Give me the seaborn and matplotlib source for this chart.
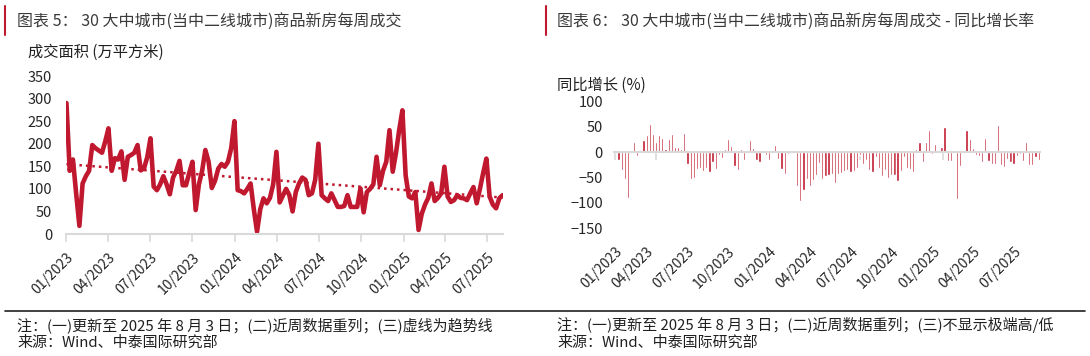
import numpy as np
import pandas as pd
import matplotlib
matplotlib.use('Agg')
import matplotlib.pyplot as plt
import matplotlib.dates as mdates
from matplotlib.lines import Line2D
import seaborn as sns

# weekly data, 2023-01-01 .. 2025-08-03
weeks = pd.date_range('2023-01-01', '2025-08-03', freq='7D')

# 30 大中城市 weekly transaction area (万平方米)
area = [290, 140, 165, 90, 18, 112, 128, 140, 197, 190,
        185, 180, 205, 234, 140, 168, 165, 183, 120, 171,
        175, 180, 197, 141, 145, 170, 212, 105, 97, 110,
        128, 110, 88, 125, 140, 162, 108, 108, 135, 160,
        53, 110, 140, 186, 160, 102, 118, 145, 155, 149,
        160, 190, 250, 97, 95, 90, 100, 112, 55, 5,
        55, 79, 68, 80, 110, 182, 70, 85, 100, 86,
        50, 93, 112, 125, 120, 86, 90, 120, 200, 86,
        79, 73, 90, 75, 60, 60, 62, 86, 60, 60,
        60, 101, 48, 93, 100, 110, 171, 108, 140, 160,
        230, 138, 179, 230, 274, 130, 83, 79, 93, 9,
        45, 65, 80, 112, 73, 80, 90, 149, 83, 71,
        75, 86, 80, 79, 75, 90, 104, 68, 100, 135,
        167, 83, 65, 57, 79, 86]

# year-on-year growth (%)
yoy = [5, -15, -35, -53, -90, 0, 21, -7, 5, 24,
       34, 55, 36, 21, 35, 28, 6, 26, 37, 10,
       10, 6, 39, -23, -53, -51, -33, -31, -38, -31,
       -39, -20, -33, -5, -12, 6, 26, 12, -27, -36,
       6, -16, 3, 24, 8, -15, -20, 0, -5, -16,
       3, 14, -14, -33, -43, -4, 0, 0, -66, -97,
       -75, -53, -66, -54, -45, -22, -53, -47, -45, -43,
       -60, -43, -41, -37, -35, -39, -38, -31, -5, -23,
       -16, -35, -39, -10, -31, -48, -35, -51, -45, -45,
       -56, -38, -10, -31, -33, -40, 6, 21, -20, 20,
       44, -3, 16, 3, 10, 49, -18, -18, -2, -92,
       -28, 0, 43, 26, 8, -5, -7, -20, 29, -18,
       -24, -24, 54, -25, -30, -13, -20, -23, -7, -4,
       -17, 20, -25, -25, -9, -15]

RED = '#C0192F'
GREY = '#D9D9D9'
W, H = 1090, 356

sns.set_theme(style='white')
plt.rcParams['font.family'] = ['Noto Sans CJK SC', 'DejaVu Sans']

fig = plt.figure(figsize=(W / 100, H / 100), dpi=100)
fig.patch.set_facecolor('white')


def px(x0, y0, x1, y1):
    return [x0 / W, 1 - y1 / H, (x1 - x0) / W, (y1 - y0) / H]


quarter = mdates.MonthLocator(bymonth=[1, 4, 7, 10])
fmt = mdates.DateFormatter('%m/%Y')

# ---- left: weekly area with trend line
ax1 = fig.add_axes(px(66, 76, 503, 234))
df1 = pd.DataFrame({'week': weeks, 'area': area})
sns.lineplot(data=df1, x='week', y='area', color=RED, linewidth=3.3, ax=ax1)

t = np.arange(len(area))
k, b = np.polyfit(t, area, 1)
df1['trend'] = k * t + b
sns.lineplot(data=df1, x='week', y='trend', color=RED, linewidth=1.8, ax=ax1)
ax1.lines[-1].set_dashes([1, 1.6])

ax1.set_xlim(weeks[0] - pd.Timedelta(days=1), weeks[-1] + pd.Timedelta(days=1))
ax1.set_ylim(0, 350)
ax1.set_yticks(range(0, 351, 50))
ax1.xaxis.set_major_locator(quarter)
ax1.xaxis.set_major_formatter(fmt)
for s in ['top', 'right', 'left']:
    ax1.spines[s].set_visible(False)
ax1.spines['bottom'].set_color(GREY)
ax1.spines['bottom'].set_linewidth(1.5)
ax1.tick_params(axis='x', bottom=True, length=6, width=1.2, color=GREY, pad=6, labelsize=10)
ax1.tick_params(axis='y', length=0, pad=10, labelsize=10.5)
plt.setp(ax1.get_xticklabels(), rotation=45, ha='right', rotation_mode='anchor')
ax1.set_xlabel('')
ax1.set_ylabel('')

# ---- right: YoY bars
ax2 = fig.add_axes(px(614, 101.7, 1040, 228))
xnum = mdates.date2num(weeks)
sns.barplot(x=xnum, y=yoy, native_scale=True, color=RED, saturation=1,
            width=0.7, errorbar=None, ax=ax2)
ax2.set_xlim(xnum[0] - 3, xnum[-1] + 3)
ax2.set_ylim(-150, 100)
ax2.set_yticks(range(-150, 101, 50))
for s in ['top', 'right', 'left']:
    ax2.spines[s].set_visible(False)
ax2.spines['bottom'].set_position(('data', 0))
ax2.spines['bottom'].set_color(GREY)
ax2.spines['bottom'].set_linewidth(1.5)
ax2.xaxis.set_major_locator(mdates.MonthLocator(bymonth=[1, 4, 7, 10]))
ax2.tick_params(axis='x', bottom=True, length=6, width=1.2, color=GREY, labelbottom=False)
ax2.tick_params(axis='y', length=0, pad=8, labelsize=10.5)
ax2.set_xlabel('')
ax2.set_ylabel('')

sec = ax2.secondary_xaxis('bottom')
sec.xaxis.set_major_locator(mdates.MonthLocator(bymonth=[1, 4, 7, 10]))
sec.xaxis.set_major_formatter(mdates.DateFormatter('%m/%Y'))
for s in sec.spines.values():
    s.set_visible(False)
sec.tick_params(axis='x', length=0, pad=12, labelsize=10)
plt.setp(sec.get_xticklabels(), rotation=45, ha='right', rotation_mode='anchor')

# ---- headings, axis titles, notes
TXT = '#3A3A3A'
INK = '#202020'
fig.add_artist(Line2D([5 / W, 5 / W], [1 - 6 / H, 1 - 35 / H], color=RED, lw=1.5))
fig.add_artist(Line2D([546 / W, 546 / W], [1 - 6 / H, 1 - 35 / H], color=RED, lw=1.5))
fig.text(17 / W, 1 - 21 / H, '图表 5： 30 大中城市(当中二线城市)商品新房每周成交',
         fontsize=11.5, color=TXT, va='center')
fig.text(557 / W, 1 - 21 / H, '图表 6： 30 大中城市(当中二线城市)商品新房每周成交 - 同比增长率',
         fontsize=11.5, color=TXT, va='center')
fig.text(28 / W, 1 - 52 / H, '成交面积 (万平方米)', fontsize=11, color=INK, va='center')
fig.text(557 / W, 1 - 85 / H, '同比增长 (%)', fontsize=11, color=INK, va='center')

fig.add_artist(Line2D([5 / W, 1085 / W], [1 - 311 / H, 1 - 311 / H], color=INK, lw=1.2))
fig.text(17 / W, 1 - 325 / H, '注：(一)更新至 2025 年 8 月 3 日；(二)近周数据重列；(三)虚线为趋势线',
         fontsize=10.8, color=INK, va='center')
fig.text(17 / W, 1 - 343 / H, '来源：Wind、中泰国际研究部', fontsize=10.8, color=INK, va='center')
fig.text(557 / W, 1 - 325 / H, '注：(一)更新至 2025 年 8 月 3 日；(二)近周数据重列；(三)不显示极端高/低',
         fontsize=10.8, color=INK, va='center')
fig.text(557 / W, 1 - 343 / H, '来源：Wind、中泰国际研究部', fontsize=10.8, color=INK, va='center')

fig.savefig('out.png', dpi=100)
